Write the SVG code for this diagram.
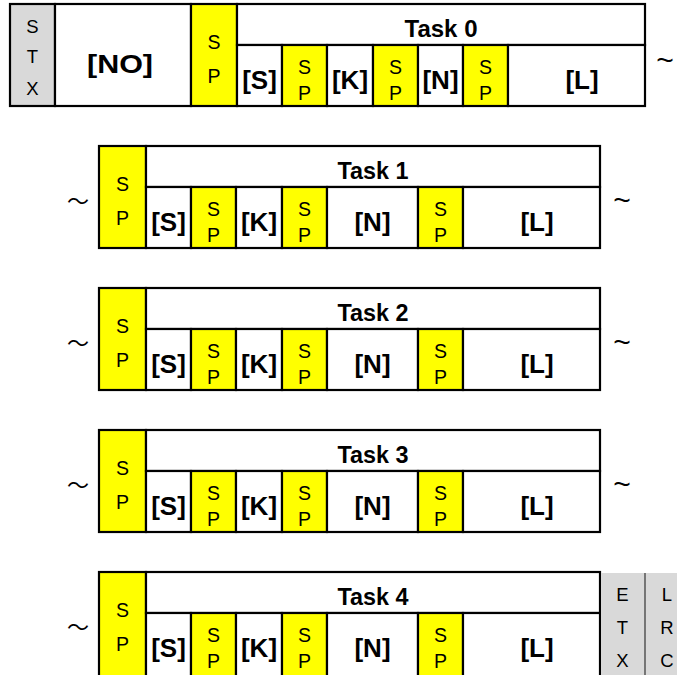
<svg xmlns="http://www.w3.org/2000/svg" width="677" height="675" viewBox="0 0 677 675">
<style>
.c{fill:#ffffff;stroke:#000;stroke-width:2.2}
.y{fill:#ffff00;stroke:#000;stroke-width:2.2}
.g{fill:#d9d9d9;stroke:#000;stroke-width:2.2}
.gf{fill:#d9d9d9;stroke:none}
.b{font-family:"Liberation Sans",Arial,sans-serif;font-weight:bold;font-size:26px;text-anchor:middle;fill:#000}
.t{font-family:"Liberation Sans",Arial,sans-serif;font-weight:bold;font-size:24px;text-anchor:middle;fill:#000}
.s{font-family:"Liberation Sans",Arial,sans-serif;font-size:19.5px;text-anchor:middle;fill:#000}
.x{font-family:"Liberation Sans",Arial,sans-serif;font-size:18.5px;text-anchor:middle;fill:#000}
.tl{font-family:"Noto Sans CJK JP",sans-serif;font-size:22px;text-anchor:middle;fill:#000}
.tr{font-family:"Liberation Sans",Arial,sans-serif;font-size:30px;text-anchor:middle;fill:#000}
</style>
<rect width="677" height="675" fill="#ffffff"/>

<!-- Row 0 -->
<g id="row0">
  <g id="stx"><rect class="g" x="10" y="4" width="45" height="102"/>
    <text class="x" x="32.5" y="33">S</text><text class="x" x="32.5" y="63">T</text><text class="x" x="32.5" y="95">X</text></g>
  <g id="no"><rect class="c" x="55" y="4" width="136" height="102"/>
    <text class="b" x="120" y="73" textLength="66" lengthAdjust="spacingAndGlyphs">[NO]</text></g>
  <g id="r0-sp0"><rect class="y" x="191" y="4" width="46" height="102"/>
    <text class="s" x="214" y="49">S</text><text class="s" x="214" y="83">P</text></g>
  <g id="task0"><rect class="c" x="237" y="4" width="408" height="41"/>
    <text class="t" x="441" y="36.5" textLength="73" lengthAdjust="spacingAndGlyphs">Task 0</text></g>
  <g id="r0-s"><rect class="c" x="237" y="45" width="45" height="61"/><text class="b" x="259.5" y="89">[S]</text></g>
  <g id="r0-sp1"><rect class="y" x="282" y="45" width="45" height="61"/><text class="s" x="304.5" y="74">S</text><text class="s" x="304.5" y="100">P</text></g>
  <g id="r0-k"><rect class="c" x="327" y="45" width="46" height="61"/><text class="b" x="350" y="89">[K]</text></g>
  <g id="r0-sp2"><rect class="y" x="373" y="45" width="45" height="61"/><text class="s" x="395.5" y="74">S</text><text class="s" x="395.5" y="100">P</text></g>
  <g id="r0-n"><rect class="c" x="418" y="45" width="45" height="61"/><text class="b" x="440.5" y="89">[N]</text></g>
  <g id="r0-sp3"><rect class="y" x="463" y="45" width="45" height="61"/><text class="s" x="485.5" y="74">S</text><text class="s" x="485.5" y="100">P</text></g>
  <g id="r0-l"><rect class="c" x="508" y="45" width="137" height="61"/><text class="b" x="582" y="89">[L]</text></g>
</g>

<!-- Rows 1-4 -->
<g id="row1">
  <g id="r1-sp0"><rect class="y" x="99" y="146" width="47" height="102"/><text class="s" x="122.5" y="191">S</text><text class="s" x="122.5" y="225">P</text></g>
  <g id="task1"><rect class="c" x="146" y="146" width="454" height="41"/><text class="t" x="373" y="178.5" textLength="71" lengthAdjust="spacingAndGlyphs">Task 1</text></g>
  <g id="r1-s"><rect class="c" x="146" y="187" width="45" height="61"/><text class="b" x="168.5" y="231">[S]</text></g>
  <g id="r1-sp1"><rect class="y" x="191" y="187" width="45" height="61"/><text class="s" x="213.5" y="216">S</text><text class="s" x="213.5" y="242">P</text></g>
  <g id="r1-k"><rect class="c" x="236" y="187" width="46" height="61"/><text class="b" x="259" y="231">[K]</text></g>
  <g id="r1-sp2"><rect class="y" x="282" y="187" width="45" height="61"/><text class="s" x="304.5" y="216">S</text><text class="s" x="304.5" y="242">P</text></g>
  <g id="r1-n"><rect class="c" x="327" y="187" width="91" height="61"/><text class="b" x="372.5" y="231">[N]</text></g>
  <g id="r1-sp3"><rect class="y" x="418" y="187" width="45" height="61"/><text class="s" x="440.5" y="216">S</text><text class="s" x="440.5" y="242">P</text></g>
  <g id="r1-l"><rect class="c" x="463" y="187" width="137" height="61"/><text class="b" x="537" y="231">[L]</text></g>
</g>

<g id="row2">
  <g id="r2-sp0"><rect class="y" x="99" y="288" width="47" height="102"/><text class="s" x="122.5" y="333">S</text><text class="s" x="122.5" y="367">P</text></g>
  <g id="task2"><rect class="c" x="146" y="288" width="454" height="41"/><text class="t" x="373" y="320.5" textLength="71" lengthAdjust="spacingAndGlyphs">Task 2</text></g>
  <g id="r2-s"><rect class="c" x="146" y="329" width="45" height="61"/><text class="b" x="168.5" y="373">[S]</text></g>
  <g id="r2-sp1"><rect class="y" x="191" y="329" width="45" height="61"/><text class="s" x="213.5" y="358">S</text><text class="s" x="213.5" y="384">P</text></g>
  <g id="r2-k"><rect class="c" x="236" y="329" width="46" height="61"/><text class="b" x="259" y="373">[K]</text></g>
  <g id="r2-sp2"><rect class="y" x="282" y="329" width="45" height="61"/><text class="s" x="304.5" y="358">S</text><text class="s" x="304.5" y="384">P</text></g>
  <g id="r2-n"><rect class="c" x="327" y="329" width="91" height="61"/><text class="b" x="372.5" y="373">[N]</text></g>
  <g id="r2-sp3"><rect class="y" x="418" y="329" width="45" height="61"/><text class="s" x="440.5" y="358">S</text><text class="s" x="440.5" y="384">P</text></g>
  <g id="r2-l"><rect class="c" x="463" y="329" width="137" height="61"/><text class="b" x="537" y="373">[L]</text></g>
</g>

<g id="row3">
  <g id="r3-sp0"><rect class="y" x="99" y="430" width="47" height="102"/><text class="s" x="122.5" y="475">S</text><text class="s" x="122.5" y="509">P</text></g>
  <g id="task3"><rect class="c" x="146" y="430" width="454" height="41"/><text class="t" x="373" y="462.5" textLength="71" lengthAdjust="spacingAndGlyphs">Task 3</text></g>
  <g id="r3-s"><rect class="c" x="146" y="471" width="45" height="61"/><text class="b" x="168.5" y="515">[S]</text></g>
  <g id="r3-sp1"><rect class="y" x="191" y="471" width="45" height="61"/><text class="s" x="213.5" y="500">S</text><text class="s" x="213.5" y="526">P</text></g>
  <g id="r3-k"><rect class="c" x="236" y="471" width="46" height="61"/><text class="b" x="259" y="515">[K]</text></g>
  <g id="r3-sp2"><rect class="y" x="282" y="471" width="45" height="61"/><text class="s" x="304.5" y="500">S</text><text class="s" x="304.5" y="526">P</text></g>
  <g id="r3-n"><rect class="c" x="327" y="471" width="91" height="61"/><text class="b" x="372.5" y="515">[N]</text></g>
  <g id="r3-sp3"><rect class="y" x="418" y="471" width="45" height="61"/><text class="s" x="440.5" y="500">S</text><text class="s" x="440.5" y="526">P</text></g>
  <g id="r3-l"><rect class="c" x="463" y="471" width="137" height="61"/><text class="b" x="537" y="515">[L]</text></g>
</g>

<g id="row4">
  <g id="r4-sp0"><rect class="y" x="99" y="572" width="47" height="110"/><text class="s" x="122.5" y="617">S</text><text class="s" x="122.5" y="651">P</text></g>
  <g id="task4"><rect class="c" x="146" y="572" width="454" height="41"/><text class="t" x="373" y="604.5" textLength="71" lengthAdjust="spacingAndGlyphs">Task 4</text></g>
  <g id="r4-s"><rect class="c" x="146" y="613" width="45" height="69"/><text class="b" x="168.5" y="657">[S]</text></g>
  <g id="r4-sp1"><rect class="y" x="191" y="613" width="45" height="69"/><text class="s" x="213.5" y="642">S</text><text class="s" x="213.5" y="668">P</text></g>
  <g id="r4-k"><rect class="c" x="236" y="613" width="46" height="69"/><text class="b" x="259" y="657">[K]</text></g>
  <g id="r4-sp2"><rect class="y" x="282" y="613" width="45" height="69"/><text class="s" x="304.5" y="642">S</text><text class="s" x="304.5" y="668">P</text></g>
  <g id="r4-n"><rect class="c" x="327" y="613" width="91" height="69"/><text class="b" x="372.5" y="657">[N]</text></g>
  <g id="r4-sp3"><rect class="y" x="418" y="613" width="45" height="69"/><text class="s" x="440.5" y="642">S</text><text class="s" x="440.5" y="668">P</text></g>
  <g id="r4-l"><rect class="c" x="463" y="613" width="137" height="69"/><text class="b" x="537" y="657">[L]</text></g>
  <g id="etx"><rect class="gf" x="601" y="573" width="44" height="110"/>
    <text class="x" x="622.5" y="601">E</text><text class="x" x="622.5" y="634">T</text><text class="x" x="622.5" y="667">X</text></g>
  <g id="lrc"><rect class="gf" x="645" y="573" width="40" height="110"/>
    <line x1="645" y1="573" x2="645" y2="680" stroke="#333" stroke-width="1.2"/>
    <text class="x" x="667" y="601">L</text><text class="x" x="667" y="634">R</text><text class="x" x="667" y="667">C</text></g>
</g>

<g id="connectors">
  <text class="tr" x="665" y="70">~</text>
  <text class="tl" x="78" y="209">～</text><text class="tr" x="622" y="210">~</text>
  <text class="tl" x="78" y="351">～</text><text class="tr" x="622" y="352">~</text>
  <text class="tl" x="78" y="493">～</text><text class="tr" x="622" y="494">~</text>
  <text class="tl" x="78" y="635">～</text>
</g>
</svg>
